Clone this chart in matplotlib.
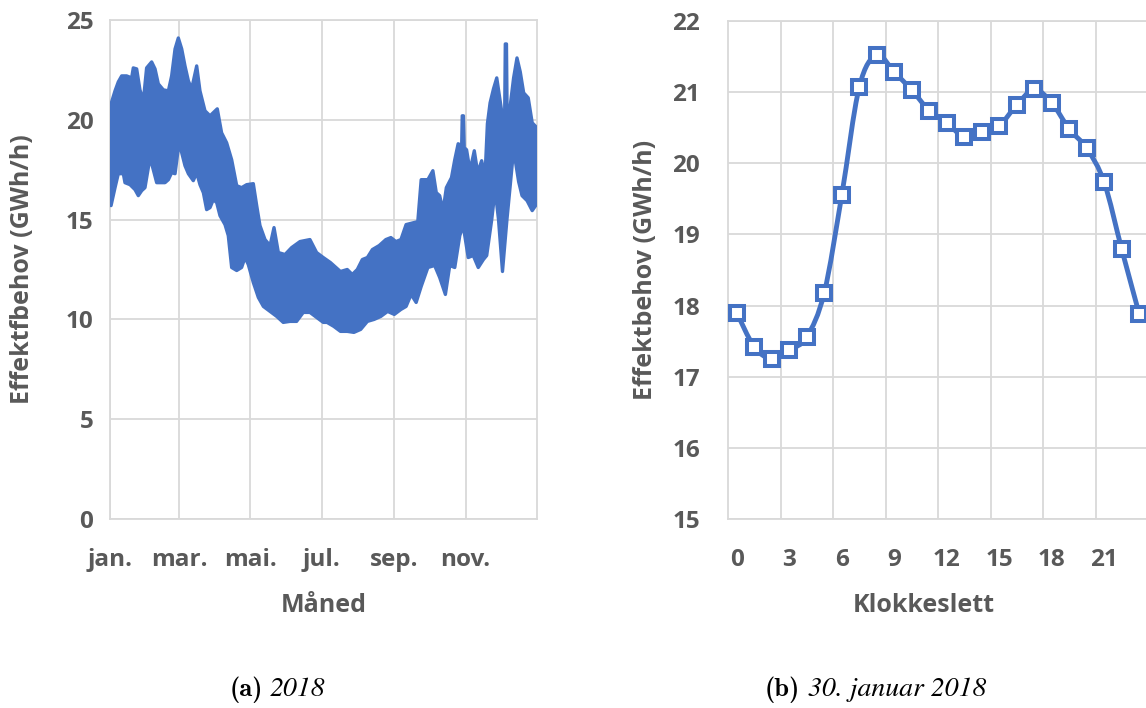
import matplotlib.pyplot as plt
import numpy as np
from matplotlib.path import Path
from matplotlib.patches import PathPatch

# Daglig topp og bunn i effektbehovet 2018 (dag i året, GWh/h)
maxDays = [0.9, 4.3, 7.1, 10, 14.2, 18.5, 19.9, 22.8, 25.6, 28.5, 31.3, 35.6, 38.5, 41.3,
           45.6, 49.9, 52.7, 55.6, 58.4, 61.3, 64.1, 67, 69.8, 74.1, 76.9, 81.2, 85.5,
           91.7, 95.4, 99.7, 104, 108.3, 112.5, 116.8, 122.5, 125.4, 128.2, 132.5, 136.8,
           140.2, 143.9, 149.6, 155.3, 162.4, 170.9, 176.6, 182.3, 188.4, 197, 202.8,
           207.1, 211.4, 215.7, 220, 224.3, 230.1, 235.8, 240.1, 244.4, 248.7, 253.1,
           263.1, 266, 271.7, 276, 278.9, 281.8, 284.7, 287.5, 291.9, 294.7, 297.6,
           300.6, 301.1, 302.1, 302.8, 304.8, 307.7, 311.4, 314.3, 317.7, 320.6, 322.6,
           324.9, 327.8, 330.6, 335, 337.4, 337.9, 338.9, 339.4, 342.1, 345, 347.9,
           350.7, 353.6, 357.5, 360.9, 365]
maxVals = [20.8, 21.45, 21.9, 22.2, 22.2, 22.1, 22.6, 22.55, 21.5, 20.95, 22.6, 22.9, 22.55,
           21.8, 21.5, 21.45, 22.2, 23.55, 24.1, 23.55, 22.7, 21.95, 21.55, 22.7, 21.45,
           20.45, 20.2, 20.55, 19.35, 18.85, 18.0, 16.7, 16.6, 16.75, 16.8, 15.7, 14.7,
           14.0, 13.7, 14.6, 13.35, 13.25, 13.6, 13.9, 14.0, 13.35, 13.1, 12.85, 12.4,
           12.5, 12.25, 12.5, 13.0, 13.1, 13.5, 13.7, 14.0, 14.1, 13.9, 14.0, 14.75,
           14.9, 17.0, 17.0, 17.45, 16.35, 16.2, 15.45, 16.6, 17.1, 18.0, 18.8,
           18.7, 20.2, 20.2, 18.6, 18.5, 17.45, 18.45, 17.35, 17.95, 17.2, 19.8,
           20.85, 21.55, 22.1, 20.35, 20.5, 23.8, 23.8, 20.6, 20.7, 22.1, 23.1,
           22.4, 21.35, 21.1, 19.85, 19.6]

minDays = [0.9, 4.3, 7.1, 11.4, 12.8, 17.1, 21.4, 24.2, 27.1, 29.9, 34.2, 37, 39.9, 47,
           49.9, 52.7, 55.6, 59, 61.3, 64.1, 67, 71.2, 74.1, 76.9, 79.8, 82.6, 85.5,
           88.3, 91.2, 94, 98.3, 101.1, 104, 108.3, 112.5, 115.4, 118.2, 122.5, 126.8,
           131.1, 136.8, 142.5, 148.1, 153.8, 159.5, 165.2, 170.9, 176.6, 182.3, 185.5,
           191.3, 197, 202.8, 208.5, 214.3, 220, 225.8, 231.5, 237.3, 243, 248.7, 253.1,
           257.4, 261.7, 266, 271.7, 277.5, 281.8, 286.7, 290.4, 294.7, 299, 301.9,
           306.2, 310.5, 314.8, 319.2, 322, 326.3, 329.2, 332.1, 335.5, 339.3, 342.1,
           345, 349.3, 352.2, 356.5, 360.9, 365]
minVals = [15.7, 16.6, 17.3, 17.3, 16.85, 16.75, 16.5, 16.2, 16.45, 16.6, 18.1, 17.5, 16.85,
           16.85, 17.0, 17.35, 17.3, 18.85, 18.35, 17.7, 17.3, 16.95, 17.35, 16.75, 16.35,
           15.5, 15.6, 16.0, 15.85, 15.2, 14.75, 14.2, 12.6, 12.45, 12.6, 13.1, 12.75,
           11.85, 11.1, 10.65, 10.4, 10.15, 9.85, 9.9, 9.9, 10.35, 10.35, 10.1, 9.85,
           9.85, 9.65, 9.4, 9.4, 9.35, 9.5, 9.9, 10.0, 10.15, 10.4, 10.25, 10.5, 10.65,
           11.25, 10.85, 11.65, 12.6, 12.7, 12.1, 11.25, 12.7, 12.6, 14.2, 14.7,
           13.1, 13.2, 12.6, 13.0, 13.2, 15.0, 16.5, 15.0, 12.4, 15.0, 16.7,
           18.5, 16.9, 16.2, 15.95, 15.45, 15.8]

monthTicks = [0, 59, 120, 181, 243, 304]
monthLabels = ['jan.', 'mar.', 'mai.', 'jul.', 'sep.', 'nov.']

# Timesverdier 30. januar 2018
hours = list(range(24))
hourVals = [17.9, 17.42, 17.25, 17.37, 17.56, 18.18, 19.55, 21.07, 21.52, 21.28, 21.03,
            20.74, 20.57, 20.37, 20.44, 20.53, 20.82, 21.04, 20.85, 20.48, 20.21, 19.73,
            18.79, 17.88]

blue = '#4472C4'
grid = '#d9d9d9'
textGray = '#595959'
font = 'Open Sans'
tickSize = 17.5
labelSize = 18

fig = plt.figure(figsize=(11.46, 7.08), dpi=100)
W, H = 1146, 708
axA = fig.add_axes([110 / W, (H - 519) / H, 427 / W, 499 / H])
axB = fig.add_axes([728 / W, (H - 519) / H, 420 / W, 498 / H])


def style(ax):
    for s in ax.spines.values():
        s.set_color(grid)
        s.set_linewidth(1.3)
    ax.tick_params(which='both', length=0, colors=textGray, labelsize=tickSize)
    for lbl in ax.get_xticklabels() + ax.get_yticklabels():
        lbl.set_fontfamily(font)
        lbl.set_fontweight('bold')
    ax.grid(True, which='major', axis='y', color=grid, lw=1.3)
    ax.set_axisbelow(True)


labelKw = dict(fontfamily=font, fontweight='bold', fontsize=labelSize, color=textGray)

# (a) hele året
bandX = np.r_[maxDays, minDays[::-1]]
bandY = np.r_[maxVals, minVals[::-1]]
axA.fill(bandX, bandY, color=blue, lw=2.4, joinstyle='round', zorder=3)
axA.set_xlim(0, 365)
axA.set_ylim(0, 25)
axA.set_yticks([0, 5, 10, 15, 20, 25])
axA.set_xticks(monthTicks)
axA.set_xticklabels(monthLabels)
axA.grid(True, axis='x', color=grid, lw=1.3)
style(axA)
axA.tick_params(axis='x', pad=21)
axA.tick_params(axis='y', pad=12)
axA.set_xlabel('Måned', va='center', **labelKw)
axA.xaxis.set_label_coords(0.5, (519 - 605) / 499)
axA.set_ylabel('Effektfbehov (GWh/h)', va='center', **labelKw)
axA.yaxis.set_label_coords((23 - 110) / 427, 0.5)

# (b) ett døgn, glattet linje
pts = np.column_stack([hours, hourVals]).astype(float)
verts = [pts[0]]
codes = [Path.MOVETO]
for i in range(len(pts) - 1):
    p0 = pts[i - 1] if i > 0 else pts[i]
    p1 = pts[i]
    p2 = pts[i + 1]
    p3 = pts[i + 2] if i + 2 < len(pts) else pts[i + 1]
    verts += [p1 + (p2 - p0) / 6, p2 - (p3 - p1) / 6, p2]
    codes += [Path.CURVE4] * 3
axB.add_patch(PathPatch(Path(verts, codes), fill=False, edgecolor=blue, lw=3.5,
                        capstyle='round', joinstyle='round', zorder=3))
axB.plot(hours, hourVals, ls='none', marker='s', ms=10.5, mfc='white', mec=blue,
         mew=2.9, zorder=4, clip_on=False)
axB.set_xlim(-0.5, 23.5)
axB.set_ylim(15, 22)
axB.set_yticks(range(15, 23))
axB.set_xticks(range(0, 24, 3))
axB.set_xticks(np.arange(2.5, 24, 3), minor=True)
axB.grid(True, which='minor', axis='x', color=grid, lw=1.3)
style(axB)
axB.tick_params(axis='x', pad=21)
axB.tick_params(axis='y', pad=20)
axB.set_xlabel('Klokkeslett', va='center', **labelKw)
axB.xaxis.set_label_coords((924 - 728) / 420, (519 - 605) / 498)
axB.set_ylabel('Effektbehov (GWh/h)', va='center', **labelKw)
axB.yaxis.set_label_coords((645 - 728) / 420, 0.5)

# undertekster
fig.text(263 / W, 1 - 690 / H, '(a)', fontfamily='cmb10', fontsize=19,
         ha='right', va='center')
fig.text(270 / W, 1 - 690 / H, '2018', fontfamily='STIXGeneral', style='italic',
         fontsize=20, ha='left', va='center')
fig.text(800 / W, 1 - 690 / H, '(b)', fontfamily='cmb10', fontsize=19,
         ha='right', va='center')
fig.text(808 / W, 1 - 690 / H, '30. januar 2018', fontfamily='STIXGeneral',
         style='italic', fontsize=20, ha='left', va='center')

plt.savefig('out.png', dpi=100)
